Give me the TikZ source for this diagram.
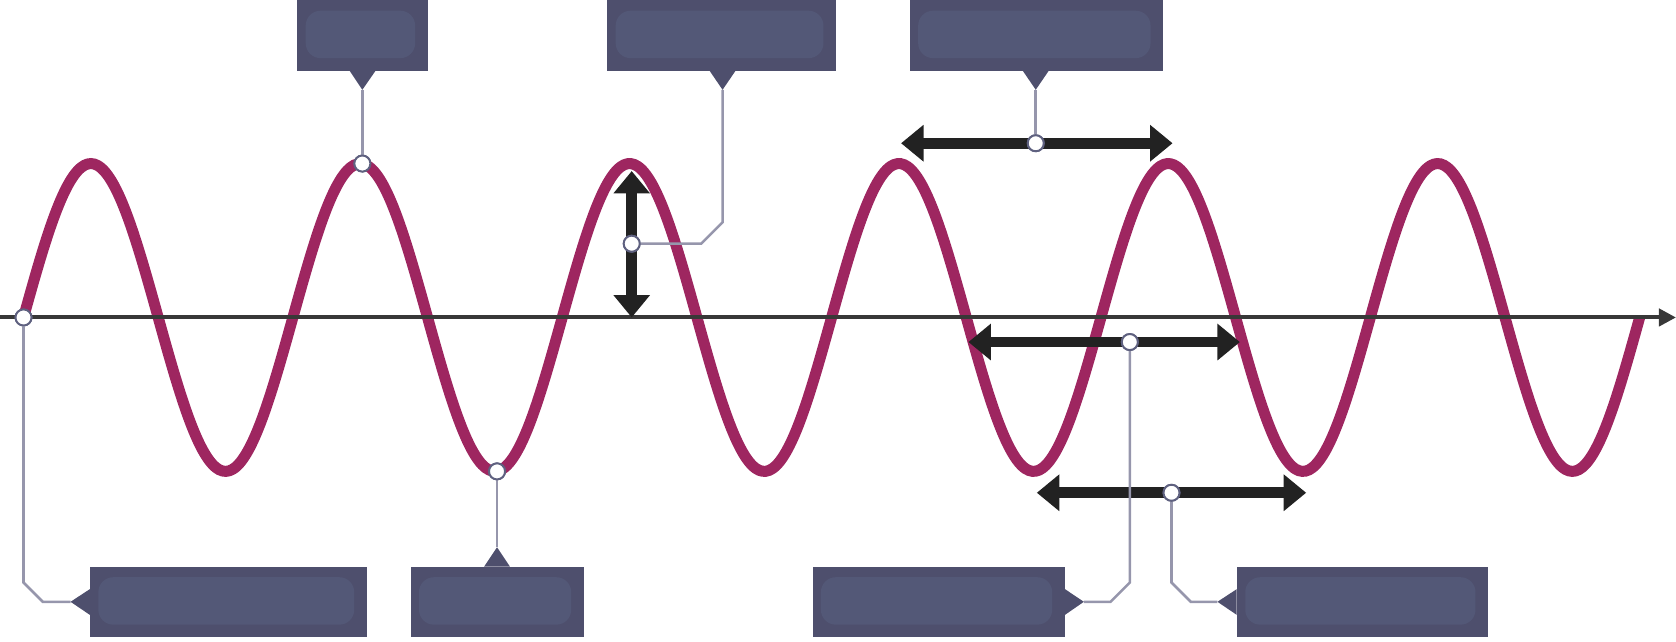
\documentclass[tikz,border=0pt]{standalone}
\usetikzlibrary{arrows.meta}
\definecolor{wavecol}{RGB}{158,38,96}
\definecolor{boxcol}{RGB}{78,79,109}
\definecolor{blobcol}{RGB}{83,88,119}
\definecolor{linecol}{RGB}{150,150,172}
\definecolor{arrcol}{RGB}{34,34,34}
\definecolor{dotline}{RGB}{95,97,128}
\begin{document}
\begin{tikzpicture}[x=1pt,y=-1pt,
  lbl/.style={fill=boxcol, inner sep=0pt, minimum height=66pt, anchor=north west},
  blob/.style={fill=blobcol, rounded corners=14pt},
  tab/.style={fill=boxcol},
  conn/.style={draw=linecol, line width=2.4pt},
  dot/.style={circle, fill=white, draw=dotline, line width=1.8pt, minimum size=15pt, inner sep=0pt},
  dimarrow/.style={draw=arrcol, line width=10pt, {Triangle[length=21pt,width=33pt]}-{Triangle[length=21pt,width=33pt]}},
  axisline/.style={draw=arrcol!90, line width=3.8pt, -{Triangle[length=16pt,width=16pt]}},
  wave/.style={draw=wavecol, line width=10.3pt}
]
\useasboundingbox (0,0) rectangle (1568,600.6);

% axis and wave
\coordinate (axl) at (0,297);
\coordinate (axr) at (1568,297);
\draw[wave] plot[domain=0:2160, samples=480, smooth] ({22+\x/360*252}, {297-144*sin(\x)});
\draw[axisline] (axl) -- (axr);

% dimension arrows
\coordinate (va) at (591,160); \coordinate (vb) at (591,297);
\coordinate (h1a) at (843,134); \coordinate (h1b) at (1097,134);
\coordinate (h2a) at (906,320); \coordinate (h2b) at (1160,320);
\coordinate (h3a) at (970,461); \coordinate (h3b) at (1222,461);
\draw[dimarrow] (va) -- (vb);
\draw[dimarrow] (h1a) -- (h1b);
\draw[dimarrow] (h2a) -- (h2b);
\draw[dimarrow] (h3a) -- (h3b);

% label boxes
\node[lbl, minimum width=122pt] (b1) at (278,0) {};
\node[lbl, minimum width=214pt] (b2) at (568,0) {};
\node[lbl, minimum width=237pt] (b3) at (851,0) {};
\node[lbl, minimum width=259pt] (b4) at (84,530) {};
\node[lbl, minimum width=162pt] (b5) at (384,530) {};
\node[lbl, minimum width=236pt] (b6) at (760,530) {};
\node[lbl, minimum width=235pt] (b7) at (1157,530) {};

% blurred label placeholders
\foreach \b in {b1,b2,b3,b4,b5,b6,b7}{
  \fill[blob] ([xshift=8pt,yshift=-10pt]\b.north west) rectangle ([xshift=-12pt,yshift=12pt]\b.south east);
}

% tabs
\coordinate (t1) at (339,84);
\coordinate (t2) at (676,84);
\coordinate (t3) at (969,84);
\coordinate (t4) at (66,563);
\coordinate (t5) at (465,512);
\coordinate (t6) at (1014,563);
\coordinate (t7) at (1139,563);
\fill[tab] ([xshift=-12pt]b1.south) -- ([xshift=12pt]b1.south) -- (t1) -- cycle;
\fill[tab] ([xshift=-12pt]b2.south -| t2) -- ([xshift=12pt]b2.south -| t2) -- (t2) -- cycle;
\fill[tab] ([xshift=-12pt]b3.south -| t3) -- ([xshift=12pt]b3.south -| t3) -- (t3) -- cycle;
\fill[tab] ([yshift=12pt]b4.west) -- ([yshift=-12pt]b4.west) -- (t4) -- cycle;
\fill[tab] ([xshift=-12pt]b5.north -| t5) -- ([xshift=12pt]b5.north -| t5) -- (t5) -- cycle;
\fill[tab] ([yshift=12pt]b6.east) -- ([yshift=-12pt]b6.east) -- (t6) -- cycle;
\fill[tab] ([yshift=12pt]b7.west) -- ([yshift=-12pt]b7.west) -- (t7) -- cycle;

% dots
\node[dot] (d1) at (339,153) {};
\node[dot] (d2) at (591,228) {};
\node[dot] (d3) at (969,134) {};
\node[dot] (d4) at (22,297) {};
\node[dot] (d5) at (465,441) {};
\node[dot] (d6) at (1057,320) {};
\node[dot] (d7) at (1096,461) {};

% connectors
\draw[conn] (t1) -- (d1);
\draw[conn] (t2) -- (676,208) -- (656,228) -- (d2);
\draw[conn] (t3) -- (d3);
\draw[conn] (d4) -- (22,545) -- (40,563) -- (t4);
\draw[conn] (d5) -- (t5);
\draw[conn] (d6) -- (1057,545) -- (1039,563) -- (t6);
\draw[conn] (d7) -- (1096,545) -- (1114,563) -- (t7);

% redraw dots on top
\foreach \d in {d1,d2,d3,d4,d5,d6,d7}{
  \node[dot] at (\d) {};
}
\end{tikzpicture}
\end{document}
